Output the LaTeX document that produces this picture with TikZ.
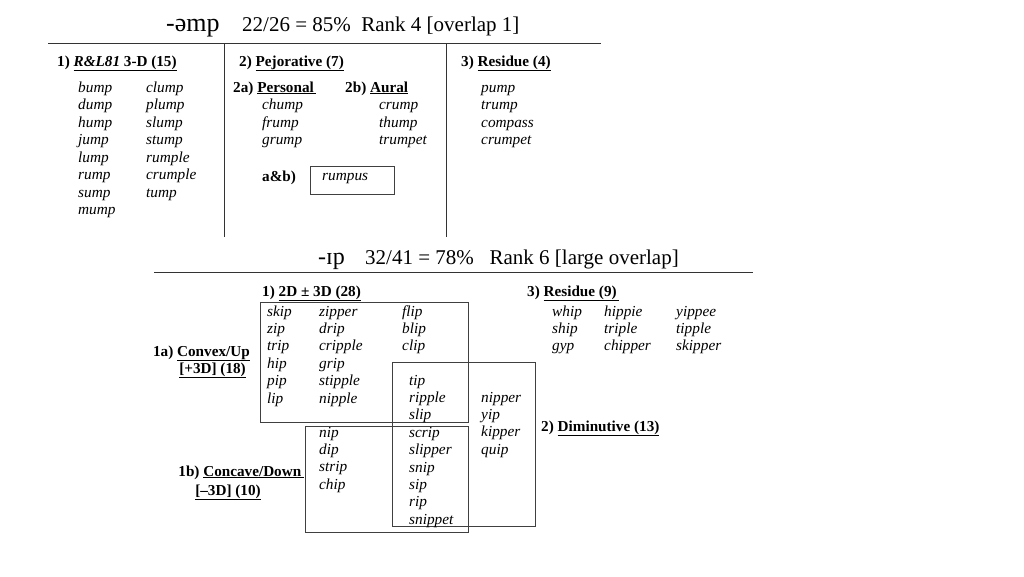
\documentclass[tikz,border=0pt]{standalone}
\usepackage{fontspec}
\setmainfont{Liberation Serif}
\begin{document}
\begin{tikzpicture}[
    x=1pt, y=-1pt,
    word/.style={anchor=base west, inner sep=0pt, font=\fontsize{15.3}{17}\selectfont\itshape},
    head/.style={anchor=base west, inner sep=0pt, font=\fontsize{15.2}{17}\selectfont\bfseries},
    title/.style={anchor=base west, inner sep=0pt, font=\fontsize{21}{24}\selectfont},
    rule/.style={draw=black!80, line width=0.8pt},
    group/.style={draw=black!75, line width=0.9pt}
]
\useasboundingbox (0,0) rectangle (1024,576);

% -- upper table
\node[title, font=\fontsize{26}{28}\selectfont] (t1a) at (166,31) {-əmp};
\node[title] (t1b) at (242,31) {22/26 = 85\%\enspace Rank 4 [overlap 1]};
\draw[rule] (48,43) -- (601,43);
\draw[rule] (224,43) -- (224,237);
\draw[rule] (446,43) -- (446,237);

\node[head] (rl) at (57,66) {1) \underline{\itshape R\&L81\upshape\ 3-D (15)}};
\foreach \w [count=\i] in {bump,dump,hump,jump,lump,rump,sump,mump}
  \node[word] (a\i) at (78,92+17.5*\i-17.5) {\w};
\foreach \w [count=\i] in {clump,plump,slump,stump,rumple,crumple,tump}
  \node[word] (b\i) at (146,92+17.5*\i-17.5) {\w};

\node[head] (pej) at (239,66) {2) \underline{Pejorative (7)}};
\node[head] (pers) at (233,92) {2a) \underline{Personal\,}};
\node[head] (aur) at (345,92) {2b) \underline{Aural}};
\foreach \w [count=\i] in {chump,frump,grump}
  \node[word] (c\i) at (262,109.5+17.5*\i-17.5) {\w};
\foreach \w [count=\i] in {crump,thump,trumpet}
  \node[word] (d\i) at (379,109.5+17.5*\i-17.5) {\w};
\node[head] (ab) at (262,181) {a\&b)};
\node[group, minimum width=84pt, minimum height=28pt] (rumpbox) at (352,180) {};
\node[word] (rump) at (322,180) {rumpus};

\node[head] (res1) at (461,66) {3) \underline{Residue (4)}};
\foreach \w [count=\i] in {pump,trump,compass,crumpet}
  \node[word] (e\i) at (481,92+17.5*\i-17.5) {\w};

% -- lower table
\node[title, font=\fontsize{24}{26}\selectfont] (t2a) at (318,264) {-ɪp};
\node[title] (t2b) at (365,264) {32/41 = 78\%\enspace\ Rank 6 [large overlap]};
\draw[rule] (154,272) -- (753,272);

\node[head] (dd) at (262,296) {1) \underline{2D ± 3D (28)}};
\draw[group] (260,302) rectangle (468,422);
\draw[group] (392,362) rectangle (535,526);
\draw[group] (305,426) rectangle (468,532);

\foreach \w [count=\i] in {skip,zip,trip,hip,pip,lip}
  \node[word] (f\i) at (267,316+17.4*\i-17.4) {\w};
\foreach \w [count=\i] in {zipper,drip,cripple,grip,stipple,nipple}
  \node[word] (g\i) at (319,316+17.4*\i-17.4) {\w};
\foreach \w [count=\i] in {flip,blip,clip}
  \node[word] (h\i) at (402,316+17.4*\i-17.4) {\w};
\foreach \w [count=\i] in {tip,ripple,slip,scrip,slipper,snip,sip,rip,snippet}
  \node[word] (k\i) at (409,385+17.4*\i-17.4) {\w};
\foreach \w [count=\i] in {nipper,yip,kipper,quip}
  \node[word] (m\i) at (481,402+17.4*\i-17.4) {\w};
\foreach \w [count=\i] in {nip,dip,strip,chip}
  \node[word] (n\i) at (319,437+17.4*\i-17.4) {\w};

\node[head, anchor=base east] (cvx) at (250,356) {1a) \underline{Convex/Up}};
\node[head, anchor=base east] (cvx2) at (246,373) {\underline{[+3D] (18)}};
\node[head, anchor=base east] (ccv) at (304,476) {1b) \underline{Concave/Down\,}};
\node[head, anchor=base] (ccv2) at (228,495) {\underline{[–3D] (10)}};
\node[head] (dim) at (541,431) {2) \underline{Diminutive (13)}};

\node[head] (res2) at (527,296) {3) \underline{Residue (9)\,}};
\foreach \w [count=\i] in {whip,ship,gyp}
  \node[word] (p\i) at (552,316+17.4*\i-17.4) {\w};
\foreach \w [count=\i] in {hippie,triple,chipper}
  \node[word] (q\i) at (604,316+17.4*\i-17.4) {\w};
\foreach \w [count=\i] in {yippee,tipple,skipper}
  \node[word] (r\i) at (676,316+17.4*\i-17.4) {\w};

\end{tikzpicture}
\end{document}
